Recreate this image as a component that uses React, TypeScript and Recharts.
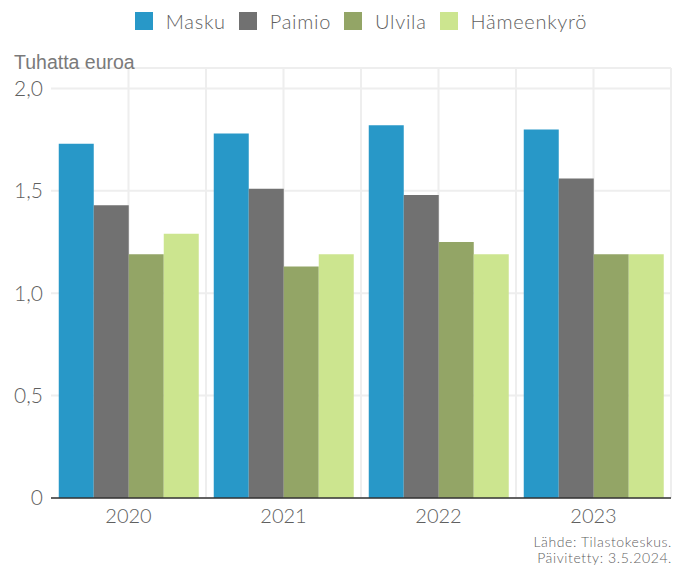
import React from 'react';
import {
  BarChart,
  Bar,
  XAxis,
  YAxis,
  CartesianGrid,
  Legend,
} from 'recharts';

// Data
const years = ['2020', '2021', '2022', '2023'];
const masku = [1.73, 1.78, 1.82, 1.8];
const paimio = [1.43, 1.51, 1.48, 1.56];
const ulvila = [1.19, 1.13, 1.25, 1.19];
const hameenkyro = [1.29, 1.19, 1.19, 1.19];
const yTicks = [0, 0.5, 1, 1.5, 2];

const seriesInfo = [
  { key: 'Masku', color: '#2898c8' },
  { key: 'Paimio', color: '#717171' },
  { key: 'Ulvila', color: '#93a566' },
  { key: 'Hämeenkyrö', color: '#cce58f' },
];

const chartData = years.map((year, i) => ({
  year,
  Masku: masku[i],
  Paimio: paimio[i],
  Ulvila: ulvila[i],
  'Hämeenkyrö': hameenkyro[i],
}));

const FONT = 'Lato, "Open Sans", sans-serif';
const TEXT_COLOR = '#5f5f5f';

// formats 1.5 -> "1,5" (0 stays "0")
const formatTick = (v: number) => (v === 0 ? '0' : v.toFixed(1).replace('.', ','));

// legend centred over the plot area
const LegendContent = () => (
  <div style={{ position: 'absolute', top: 0, left: 0, width: 678 }}>
    <div
      style={{
        position: 'absolute',
        top: 8,
        left: 51,
        width: 620,
        display: 'flex',
        justifyContent: 'center',
        fontFamily: FONT,
        fontWeight: 300,
        fontSize: 20,
        letterSpacing: 0.7,
        color: TEXT_COLOR,
        lineHeight: '26px',
      }}
    >
      {seriesInfo.map((s, i) => (
        <div key={s.key} style={{ display: 'flex', alignItems: 'center', marginLeft: i === 0 ? 0 : 13 }}>
          <span style={{ width: 18, height: 18, background: s.color, display: 'inline-block', marginRight: 13 }} />
          <span>{s.key}</span>
        </div>
      ))}
    </div>
  </div>
);

// vertical grid at every half category (centres and boundaries)
const verticalGen = ({ offset }: any) => {
  const pts: number[] = [];
  for (let k = 1; k <= years.length * 2; k++) {
    pts.push(offset.left + (offset.width * k) / (years.length * 2));
  }
  return pts;
};

const App: React.FC = () => {
  return (
    <div style={{ position: 'absolute', top: 0, left: 0, width: 678, height: 569, background: '#fff' }}>
      <BarChart
        width={678}
        height={569}
        data={chartData}
        margin={{ top: 68, right: 7, bottom: 41, left: 0 }}
        barCategoryGap="5%"
        barGap={0}
      >
        <CartesianGrid
          stroke="#eeeeee"
          strokeWidth={2}
          verticalCoordinatesGenerator={verticalGen}
        />
        <XAxis
          dataKey="year"
          height={30}
          tickLine={false}
          tickSize={0}
          tickMargin={11}
          axisLine={{ stroke: '#333', strokeWidth: 1.5 }}
          tick={{ fill: TEXT_COLOR, fontSize: 20, fontFamily: FONT, fontWeight: 300 }}
        />
        <YAxis
          width={51}
          domain={[0, 2.1]}
          ticks={yTicks}
          tickFormatter={formatTick}
          axisLine={false}
          tickLine={false}
          tickSize={0}
          tickMargin={8}
          tick={{ fill: TEXT_COLOR, fontSize: 21, fontFamily: FONT, fontWeight: 300 }}
        />
        <Legend verticalAlign="top" wrapperStyle={{ top: 0, left: 0, width: 678 }} content={<LegendContent />} />
        {seriesInfo.map((s) => (
          <Bar key={s.key} dataKey={s.key} fill={s.color} isAnimationActive={false} />
        ))}
      </BarChart>
      {/* unit title */}
      <div
        style={{
          position: 'absolute',
          top: 51,
          left: 14,
          fontFamily: '"Liberation Sans", Arial, sans-serif',
          fontSize: 19.5,
          lineHeight: '22px',
          color: '#7a7a7a',
          whiteSpace: 'nowrap',
        }}
      >
        Tuhatta euroa
      </div>
      {/* source note */}
      <div
        style={{
          position: 'absolute',
          top: 534,
          right: 6,
          textAlign: 'right',
          fontFamily: FONT,
          fontWeight: 300,
          fontSize: 14,
          letterSpacing: 0.6,
          lineHeight: '16px',
          color: TEXT_COLOR,
          whiteSpace: 'nowrap',
        }}
      >
        <div>Lähde: Tilastokeskus.</div>
        <div>Päivitetty: 3.5.2024.</div>
      </div>
    </div>
  );
};

export default App;
